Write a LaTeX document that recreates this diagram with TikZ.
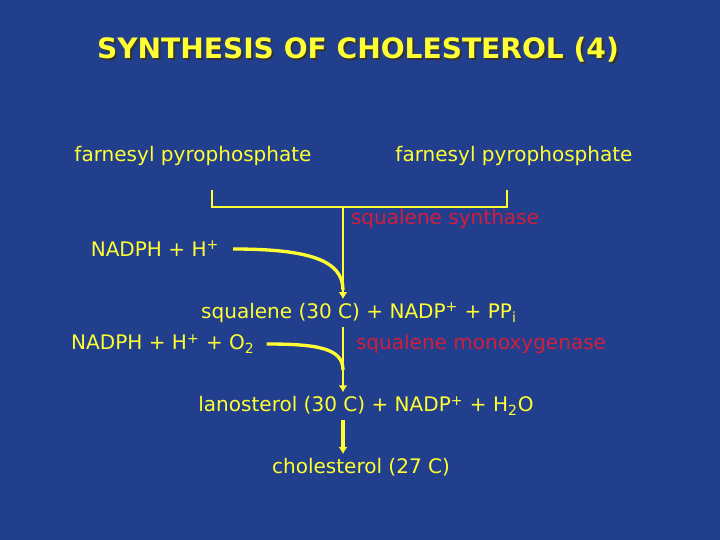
\documentclass[tikz,border=0pt]{standalone}
\usepackage{fontspec}
\setmainfont{DejaVu Sans}
\usepackage{xcolor}
\usetikzlibrary{arrows.meta,positioning,calc}
\definecolor{slideblue}{HTML}{213F8D}
\definecolor{slideyellow}{HTML}{FFFF33}
\definecolor{enzymered}{HTML}{D01E3C}
\tikzset{
  compound/.style={
    text=slideyellow,
    inner sep=2pt,
    font=\fontsize{11.4}{13}\selectfont
  },
  enzyme/.style={
    text=enzymered,
    inner sep=2pt,
    font=\fontsize{11.4}{13}\selectfont
  },
  rxnline/.style={
    draw=slideyellow,
    line width=1.7pt
  },
  rxnarrow/.style={
    rxnline,
    -{Latex[length=4pt,width=5pt]}
  }
}

\begin{document}
\begin{tikzpicture}[x=0.02cm,y=-0.02cm]
    \fill[slideblue] (0,0) rectangle (720,540);
    % title with shadow
    \node[text=black!80, font=\bfseries\fontsize{16}{19}\selectfont] (titleshadow) at (360,52) {SYNTHESIS OF CHOLESTEROL (4)};
    \node[text=slideyellow, font=\bfseries\fontsize{16}{19}\selectfont] (title) at (358,50) {SYNTHESIS OF CHOLESTEROL (4)};
    % substrates
    \node[compound] (fpp1) at (193,156) {farnesyl pyrophosphate};
    \node[compound] (fpp2) at (514,156) {farnesyl pyrophosphate};
    \coordinate (brL) at (212,190);
    \coordinate (brR) at (507,190);
    \coordinate (join) at (343,207);
    \draw[rxnline] (brL) |- (join) -| (brR);
    \node[enzyme] (synthase) at (445,219) {squalene synthase};
    \node[compound] (nadph1) at (155,249) {NADPH + H\textsuperscript{+}};
    \node[compound] (squalene) at (359,313) {squalene (30 C) + NADP\textsuperscript{+} + PP\textsubscript{i}};
    \draw[rxnarrow] (join) -- (join |- squalene.north);
    \coordinate (merge1) at (343,290);
    \draw[rxnline, line width=1.9pt] ($(nadph1.east)+(10,0)$) .. controls +(75,0) and +(0,-30) .. (merge1);
    % second step
    \node[compound] (nadph2) at (163,344) {NADPH + H\textsuperscript{+} + O\textsubscript{2}};
    \node[enzyme] (monoox) at (481,344) {squalene monoxygenase};
    \node[compound] (lanosterol) at (366,406) {lanosterol (30 C) + NADP\textsuperscript{+} + H\textsubscript{2}O};
    \coordinate (start2) at (343,327);
    \coordinate (merge2) at (343,370);
    \draw[rxnarrow] (start2) -- (start2 |- lanosterol.north);
    \draw[rxnline, line width=1.9pt] ($(nadph2.east)+(8,0)$) .. controls +(50,0) and +(0,-22) .. (merge2);
    % last step
    \node[compound] (cholesterol) at (361,467) {cholesterol (27 C)};
    \draw[rxnarrow, line width=2.2pt] (start2 |- lanosterol.south) -- (start2 |- cholesterol.north);
  \end{tikzpicture}
\end{document}
